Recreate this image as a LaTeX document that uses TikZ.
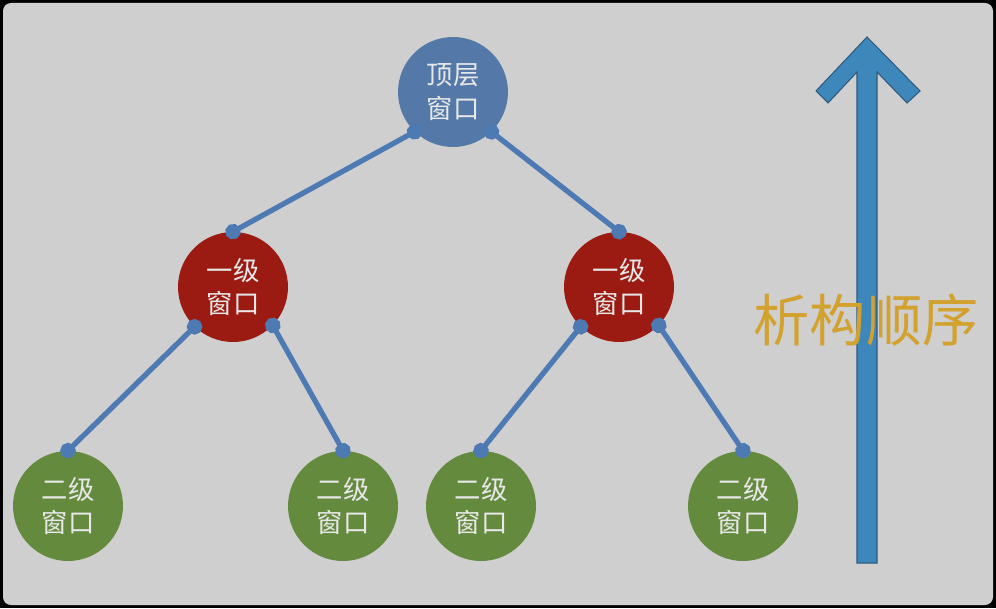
\documentclass[tikz,border=0pt]{standalone}
\usepackage{fontspec}
\setmainfont{Noto Sans CJK SC}
\usepackage{tikz}
\usetikzlibrary{arrows.meta}
\definecolor{bgray}{RGB}{207,207,207}
\definecolor{topblue}{RGB}{84,121,168}
\definecolor{lvred}{RGB}{155,27,18}
\definecolor{lvgreen}{RGB}{100,138,62}
\definecolor{edgeblue}{RGB}{78,122,180}
\definecolor{arrowblue}{RGB}{61,135,187}
\definecolor{arrowedge}{RGB}{47,90,125}
\definecolor{orange}{RGB}{211,161,45}
\definecolor{ltext}{RGB}{232,232,232}
\tikzstyle{window}=[circle,minimum size=2.2cm,inner sep=0pt,align=center,text=ltext,font=\fontsize{15}{19}\selectfont]
\tikzstyle{topwin}=[window,fill=topblue]
\tikzstyle{firstwin}=[window,fill=lvred]
\tikzstyle{secondwin}=[window,fill=lvgreen]
\tikzstyle{link}=[color=edgeblue,line width=3pt,{Circle[length=0.31cm]}-{Circle[length=0.31cm]},shorten <=-0.155cm,shorten >=-0.155cm]
\tikzstyle{orderarrow}=[fill=arrowblue,draw=arrowedge,line width=0.6pt,line join=miter]

\begin{document}
\begin{tikzpicture}[x=0.02cm,y=-0.02cm]

  % FRAME
  \fill[black] (0,0) rectangle (996,608);
  \fill[bgray,rounded corners=0.16cm] (3,3) rectangle (993,605);

  % WINDOWS
  \node[topwin] (top) at (453,92) {顶层\\窗口};
  \node[firstwin] (firstA) at (233,287) {一级\\窗口};
  \node[firstwin] (firstB) at (619,287) {一级\\窗口};
  \node[secondwin] (secondA) at (68,506) {二级\\窗口};
  \node[secondwin] (secondB) at (343,506) {二级\\窗口};
  \node[secondwin] (secondC) at (481,506) {二级\\窗口};
  \node[secondwin] (secondD) at (743,506) {二级\\窗口};

  % LINKS
  \draw[link] (top.-134) -- (firstA.north);
  \draw[link] (top.-46) -- (firstB.north);
  \foreach \parent/\left/\right in {firstA/secondA/secondB, firstB/secondC/secondD} {
    \draw[link] (\parent.-134) -- (\left.north);
    \draw[link] (\parent.-44) -- (\right.north);
  }

  % DESTRUCTION ORDER
  \filldraw[orderarrow] (857,563) -- (857,72) -- (828,103) -- (816,91) -- (867,37)
    -- (920,91) -- (907,103) -- (877,72) -- (877,563) -- cycle;
  \node[text=orange,font=\fontsize{32}{38}\selectfont] (order) at (866,320) {析构顺序};

\end{tikzpicture}
\end{document}
